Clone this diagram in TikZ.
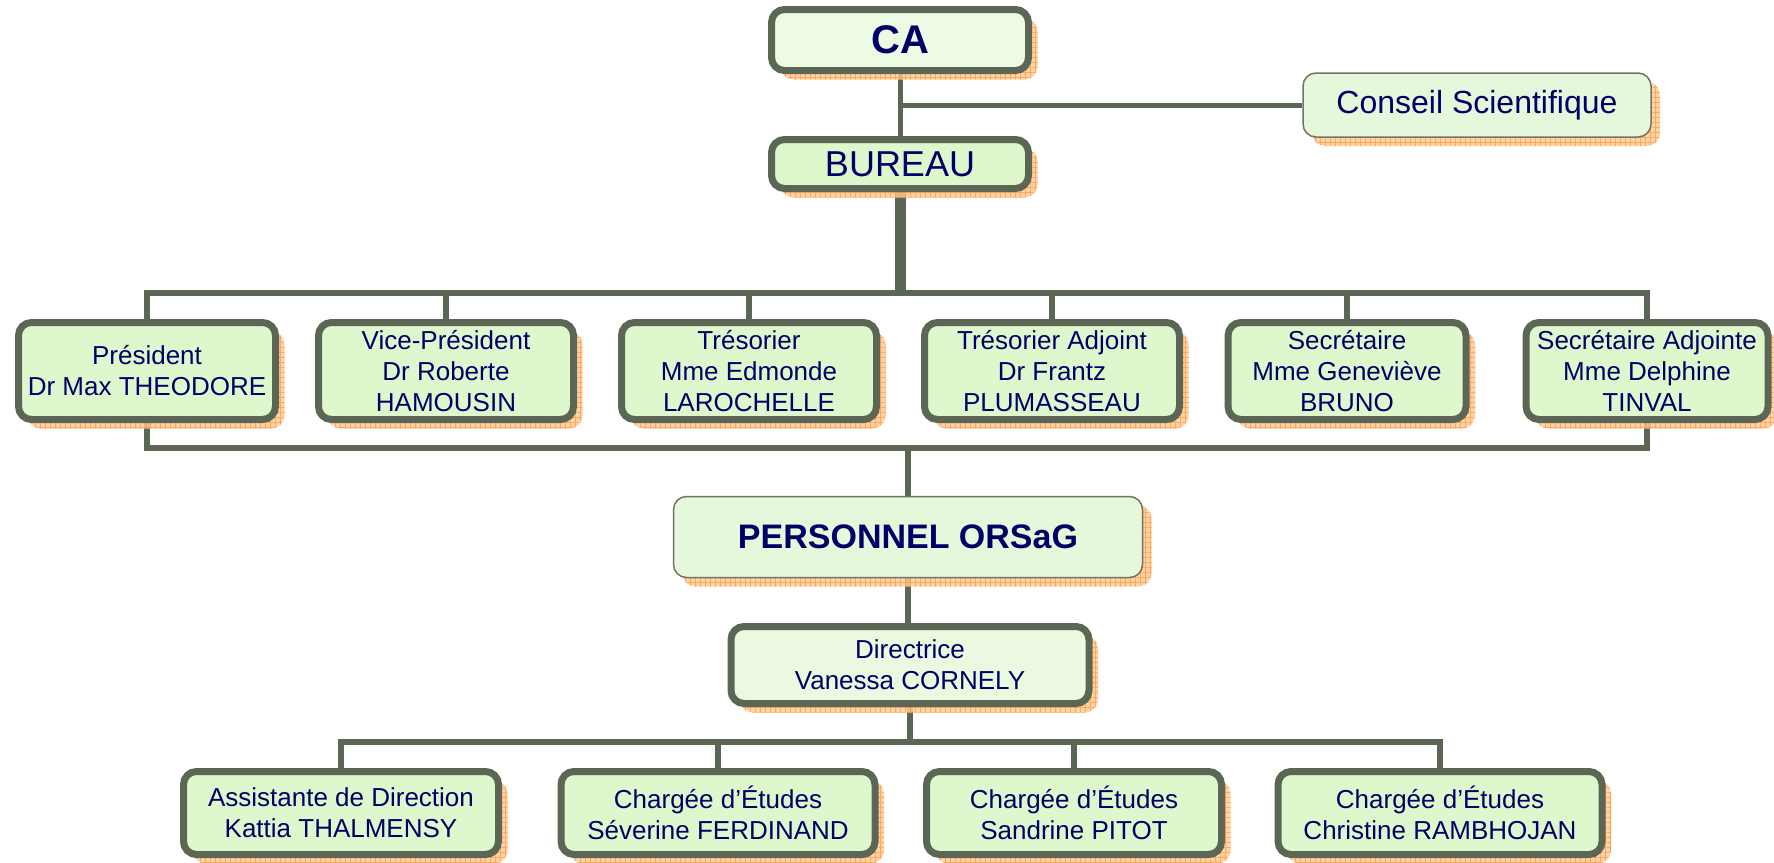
\documentclass[tikz,border=0pt]{standalone}
\usepackage{fontspec}
\setmainfont{Liberation Sans}
\usetikzlibrary{shadows,patterns.meta,backgrounds}
\definecolor{linec}{RGB}{92,102,84}
\definecolor{thinc}{RGB}{112,116,104}
\definecolor{txt}{RGB}{0,0,102}
\definecolor{fillca}{RGB}{237,250,228}
\definecolor{fillg}{RGB}{223,247,205}
\definecolor{fillpale}{RGB}{230,248,219}
\definecolor{filldir}{RGB}{234,249,224}
\definecolor{shfill}{RGB}{255,204,150}
\definecolor{shline}{RGB}{255,150,60}
\tikzset{
  shadowed/.style={
    general shadow={shadow xshift=9pt, shadow yshift=-9pt, fill=shfill, opacity=0.85},
    general shadow={shadow xshift=9pt, shadow yshift=-9pt,
      pattern={Hatch[angle=0,distance=5pt,line width=0.6pt]}, pattern color=shline, opacity=0.7}},
  box/.style={shadowed, draw=linec, line width=7pt, rounded corners=13pt, fill=fillg,
    text=txt, align=center, inner sep=0pt},
  thinbox/.style={shadowed, draw=thinc, line width=1.5pt, rounded corners=13pt, fill=fillpale,
    text=txt, align=center, inner sep=0pt},
  rowfont/.style={font=\fontsize{26}{31}\selectfont},
  rowbox/.style={box, rowfont, minimum height=97pt},
  botbox/.style={box, rowfont, minimum height=83pt},
  conn/.style={draw=linec, line width=6pt},
}
\begin{document}
\begin{tikzpicture}[x=1pt,y=-1pt]
\useasboundingbox (0,0) rectangle (1774,862);
% top
\node[box, fill=fillca, minimum width=257pt, minimum height=61pt, font=\fontsize{40}{46}\selectfont\bfseries] (ca) at (900,40) {CA};
\node[box, fill=fillg, minimum width=257pt, minimum height=49pt, font=\fontsize{36}{42}\selectfont] (bureau) at (900,164) {BUREAU};
\node[thinbox, minimum width=348pt, minimum height=64pt, font=\fontsize{32}{38}\selectfont] (conseil) at (1477,105) {Conseil Scientifique};
% row
\node[rowbox, minimum width=257pt] (p1) at (147,371) {Président\\Dr Max THEODORE};
\node[rowbox, minimum width=255pt] (p2) at (446,371) {Vice-Président\\Dr Roberte\\HAMOUSIN};
\node[rowbox, minimum width=255pt] (p3) at (749,371) {Trésorier\\Mme Edmonde\\LAROCHELLE};
\node[rowbox, minimum width=255pt] (p4) at (1052,371) {Trésorier Adjoint\\Dr Frantz\\PLUMASSEAU};
\node[rowbox, minimum width=238pt] (p5) at (1347,371) {Secrétaire\\Mme Geneviève\\BRUNO};
\node[rowbox, minimum width=242pt] (p6) at (1647,371) {Secrétaire Adjointe\\Mme Delphine\\TINVAL};
% personnel
\node[thinbox, minimum width=469pt, minimum height=81pt, font=\fontsize{34}{40}\selectfont\bfseries] (pers) at (908,537) {PERSONNEL ORSaG};
\node[box, fill=filldir, rowfont, minimum width=358pt, minimum height=77pt] (dir) at (910,665) {Directrice\\Vanessa CORNELY};
% bottom
\node[botbox, minimum width=315pt] (b1) at (341,813) {Assistante de Direction\\Kattia THALMENSY};
\node[botbox, minimum width=314pt] (b2) at (718,813) {Chargée d’Études\\Séverine FERDINAND};
\node[botbox, minimum width=295pt] (b3) at (1074,813) {Chargée d’Études\\Sandrine PITOT};
\node[botbox, minimum width=324pt] (b4) at (1440,813) {Chargée d’Études\\Christine RAMBHOJAN};
% junction coordinates
\coordinate (tb) at (0,293);
\coordinate (lb) at (0,448);
\coordinate (bb) at (0,742);
\coordinate (j1) at (ca.south |- conseil.west);
\begin{scope}[on background layer]
\fill[white] (0,0) rectangle (1774,862);
\draw[conn, line width=5pt] (ca.south) -- (bureau.north);
\draw[conn, line width=5pt] (j1) -- (conseil.west);
\draw[conn, line width=11pt] (bureau.south) -- (bureau.south |- tb);
\draw[conn] (p1.north) |- (p6.north |- tb) -- (p6.north);
\draw[conn] (p2.north) -- (p2.north |- tb);
\draw[conn] (p3.north) -- (p3.north |- tb);
\draw[conn] (p4.north) -- (p4.north |- tb);
\draw[conn] (p5.north) -- (p5.north |- tb);
\draw[conn] (p1.south) |- (p6.south |- lb) -- (p6.south);
\draw[conn] (pers.north) -- (pers.north |- lb);
\draw[conn] (pers.south) -- (pers.south |- dir.north);
\draw[conn] (dir.south) -- (dir.south |- bb);
\draw[conn] (b1.north) |- (b4.north |- bb) -- (b4.north);
\draw[conn] (b2.north) -- (b2.north |- bb);
\draw[conn] (b3.north) -- (b3.north |- bb);
\end{scope}
\end{tikzpicture}
\end{document}
